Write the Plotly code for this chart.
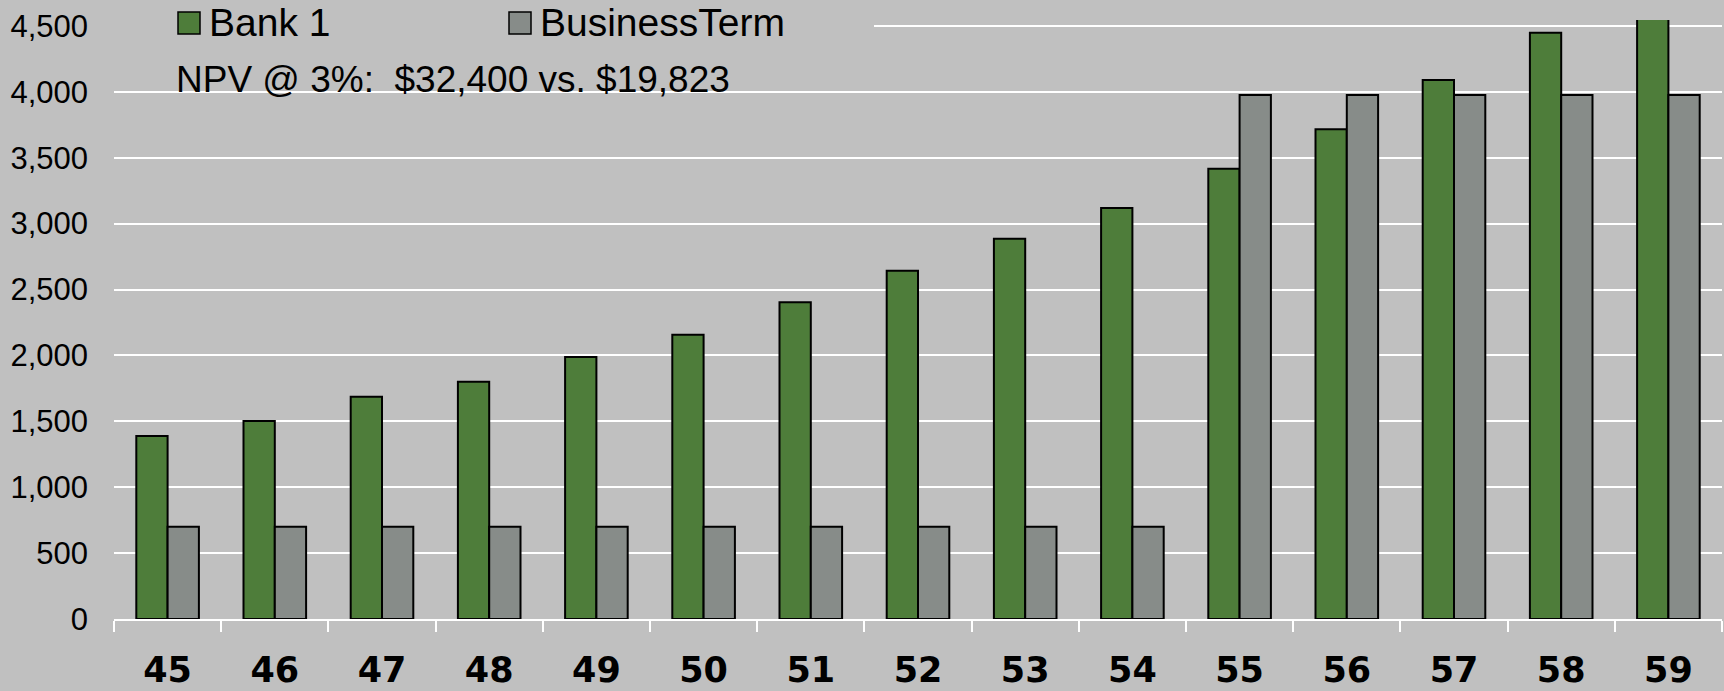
import plotly.graph_objects as go

ages = ["45", "46", "47", "48", "49", "50", "51", "52", "53", "54", "55", "56", "57", "58", "59"]
bank1 = [1388, 1502, 1687, 1800, 1988, 2157, 2403, 2643, 2885, 3118, 3417, 3716, 4090, 4448, 4850]
business_term = [700, 700, 700, 700, 700, 700, 700, 700, 700, 700, 3976, 3976, 3976, 3976, 3976]
series_names = ["Bank 1", "BusinessTerm"]
series_colors = ["#4E7D3A", "#878C89"]
npv_text = "NPV @ 3%:\u00a0 $32,400 vs. $19,823"

W, H = 1724, 691
ML, MR, MT, MB = 114, 2, 20, 72
PW, PH = W - ML - MR, H - MT - MB

def px(x):
    return (x - ML) / PW

def py(y):
    return (H - MB - y) / PH

fig = go.Figure()
for name, vals, col in zip(series_names, [bank1, business_term], series_colors):
    fig.add_trace(go.Bar(
        x=ages, y=vals, name=name,
        marker=dict(color=col, line=dict(color="black", width=2)),
        showlegend=False,
    ))

legend_font = dict(family="Liberation Sans, Arial, sans-serif", size=39, color="black")
npv_font = dict(family="Liberation Sans, Arial, sans-serif", size=37, color="black")

shapes = [
    # legend background hiding the top gridline
    dict(type="rect", xref="paper", yref="paper", x0=0, x1=px(874), y0=py(45), y1=py(4),
         fillcolor="#C0C0C0", line=dict(width=0), layer="above"),
]
annotations = []
sw_x = [178, 509]
txt_x = [207, 538]
for i, name in enumerate(series_names):
    shapes.append(dict(type="rect", xref="paper", yref="paper",
                       x0=px(sw_x[i]), x1=px(sw_x[i] + 22), y0=py(34), y1=py(12),
                       fillcolor=series_colors[i], line=dict(color="black", width=1.5), layer="above"))
    annotations.append(dict(text=name, xref="paper", yref="paper", x=px(txt_x[i]), y=py(23),
                            xanchor="left", yanchor="middle", showarrow=False, font=legend_font))
annotations.append(dict(text=npv_text, xref="paper", yref="paper", x=px(174), y=py(79),
                        xanchor="left", yanchor="middle", showarrow=False, font=npv_font))

fig.update_layout(
    width=W, height=H,
    margin=dict(l=ML, r=MR, t=MT, b=MB, pad=0, autoexpand=False),
    paper_bgcolor="#C0C0C0", plot_bgcolor="#C0C0C0",
    barmode="group", bargap=0.416, bargroupgap=0,
    shapes=shapes, annotations=annotations,
    xaxis=dict(
        type="category", automargin=False,
        showline=True, linecolor="white", linewidth=2,
        ticks="outside", tickson="boundaries", ticklen=11, tickwidth=2, tickcolor="white",
        showgrid=False,
        tickfont=dict(family="DejaVu Sans, Verdana, sans-serif", size=35, color="black", weight="bold"),
        ticklabelstandoff=19,
    ),
    yaxis=dict(
        automargin=False,
        range=[0, 4545], dtick=500, tick0=0, tickformat=",",
        showgrid=True, gridcolor="white", gridwidth=2,
        zeroline=False, showline=False, ticks="",
        tickfont=dict(family="Liberation Sans, Arial, sans-serif", size=31, color="black"),
        ticklabelstandoff=25,
    ),
)

fig.write_html(
    "out.html",
    config={"displayModeBar": False},
    post_script="document.body.style.margin='0';document.body.style.overflow='hidden';",
)
